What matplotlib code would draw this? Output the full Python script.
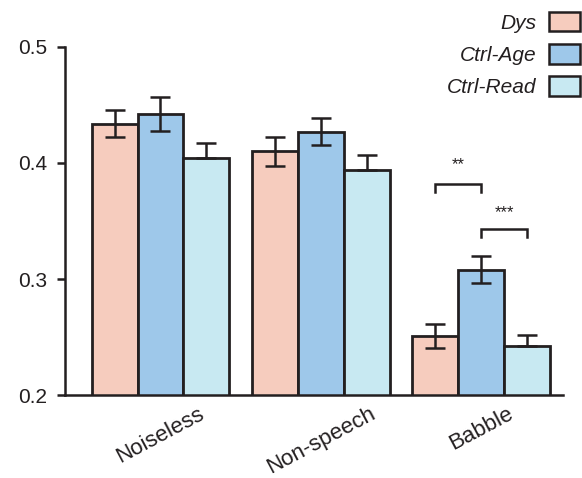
import numpy as np
import matplotlib.pyplot as plt
from matplotlib.patches import Patch

plt.rcParams['font.family'] = ['Liberation Sans', 'DejaVu Sans']

conditions = ['Noiseless', 'Non-speech', 'Babble']
groups = ['Dys', 'Ctrl-Age', 'Ctrl-Read']
colors = ['#f6ccbe', '#9ec8ea', '#c8e9f2']

means = {
    'Dys':       [0.434, 0.410, 0.251],
    'Ctrl-Age':  [0.442, 0.427, 0.308],
    'Ctrl-Read': [0.404, 0.394, 0.242],
}
errors = {
    'Dys':       [0.012, 0.0125, 0.0105],
    'Ctrl-Age':  [0.0145, 0.0115, 0.0115],
    'Ctrl-Read': [0.013, 0.013, 0.0095],
}

edge = '#231f20'
fig = plt.figure(figsize=(5.82, 4.78), dpi=100)
ax = fig.add_axes([0.1117, 0.1736, 0.8556, 0.7281])

centers = np.array([0.0, 3.49, 6.97])
width = 1.0
for i, g in enumerate(groups):
    xs = centers + (i - 1) * width
    ax.bar(xs, means[g], width=width, color=colors[i], edgecolor=edge,
           linewidth=2.0, zorder=2)
    if g == 'Ctrl-Read':
        yerr = [np.zeros(3), errors[g]]
    else:
        yerr = errors[g]
    ax.errorbar(xs, means[g], yerr=yerr, fmt='none', ecolor=edge,
                elinewidth=1.8, capsize=7, capthick=1.8, zorder=3)

# significance brackets in the babble condition
def bracket(x0, x1, y, h, label, ty):
    ax.plot([x0, x0, x1, x1], [y - h, y, y, y - h], color=edge, lw=1.8,
            solid_joinstyle='miter', zorder=3)
    ax.text((x0 + x1) / 2, ty, label, ha='center', va='center',
            fontsize=12, color=edge)

bx = centers[2]
bracket(bx - 1, bx, 0.382, 0.007, '**', 0.399)
bracket(bx, bx + 1, 0.343, 0.007, '***', 0.357)

ax.set_ylim(0.2, 0.5)
ax.set_xlim(-2.076, 8.75)
ax.set_yticks([0.2, 0.3, 0.4, 0.5])
ax.set_yticklabels(['0.2', '0.3', '0.4', '0.5'])
ax.set_xticks(centers)
ax.set_xticklabels(conditions, rotation=28, ha='center')

for s in ['top', 'right']:
    ax.spines[s].set_visible(False)
for s in ['left', 'bottom']:
    ax.spines[s].set_linewidth(1.8)
    ax.spines[s].set_color(edge)

ax.tick_params(axis='y', length=6, width=1.8, color=edge, labelsize=15,
               pad=7, labelcolor=edge)
ax.tick_params(axis='x', length=0, labelsize=16, pad=6, labelcolor=edge)

handles = [Patch(facecolor=c, edgecolor=edge, linewidth=1.8) for c in colors]
leg = fig.legend(handles, groups, loc='upper right',
                 bbox_to_anchor=(0.9966, 0.975), frameon=False,
                 markerfirst=False, fontsize=15, handlelength=1.5,
                 handleheight=1.05, labelspacing=0.55, handletextpad=0.58,
                 borderpad=0, borderaxespad=0)
for t in leg.get_texts():
    t.set_fontstyle('italic')
    t.set_color(edge)

fig.savefig('out.png', dpi=100)
